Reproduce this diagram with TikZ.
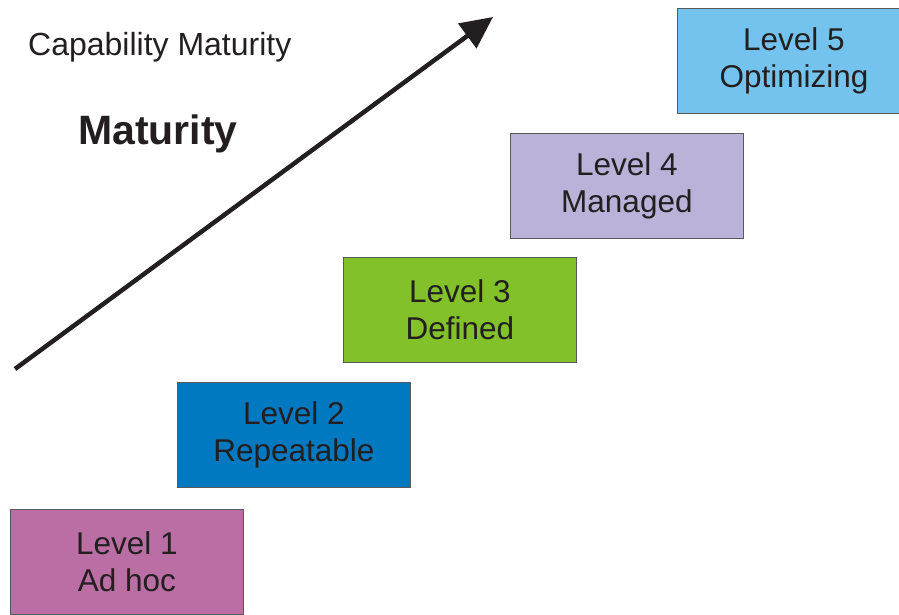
\documentclass[tikz,border=0pt]{standalone}
\usepackage{fontspec}
\setmainfont{Liberation Sans}
\usetikzlibrary{arrows.meta}
\definecolor{lvone}{HTML}{BA6EA4}
\definecolor{lvtwo}{HTML}{0079C1}
\definecolor{lvthree}{HTML}{82C12A}
\definecolor{lvfour}{HTML}{BAB2D8}
\definecolor{lvfive}{HTML}{74C3EE}
\definecolor{ink}{HTML}{231F20}
\begin{document}
\begin{tikzpicture}[x=1pt,y=-1pt,
  levelbox/.style={draw=black!65,line width=0.8pt,minimum width=233pt,minimum height=105pt,
    anchor=north west,inner sep=0pt,align=center,text=ink,
    font=\fontsize{31.5}{37}\selectfont}]
\useasboundingbox (0,0) rectangle (899,614);
\clip (0,0) rectangle (899,614);
\node[levelbox,fill=lvone]   (l1) at (10,509) {Level 1\\Ad hoc};
\node[levelbox,fill=lvtwo]   (l2) at (177,382) {Level 2\\Repeatable};
\node[levelbox,fill=lvthree] (l3) at (343,257) {Level 3\\Defined};
\node[levelbox,fill=lvfour]  (l4) at (510,133) {Level 4\\Managed};
\node[levelbox,fill=lvfive]  (l5) at (677,8) {Level 5\\Optimizing};
\node[anchor=west,inner sep=0pt,text=ink,font=\fontsize{32}{36}\selectfont] (cap) at (28,47) {Capability Maturity};
\node[anchor=west,inner sep=0pt,text=ink,font=\fontsize{41}{46}\bfseries\selectfont] (mat) at (78,134) {Maturity};
\coordinate (as) at (15,369);
\coordinate (ae) at (493,17);
\draw[ink,line width=4.5pt,-{Triangle[length=32pt,width=30pt]}] (as) -- (ae);
\end{tikzpicture}
\end{document}
